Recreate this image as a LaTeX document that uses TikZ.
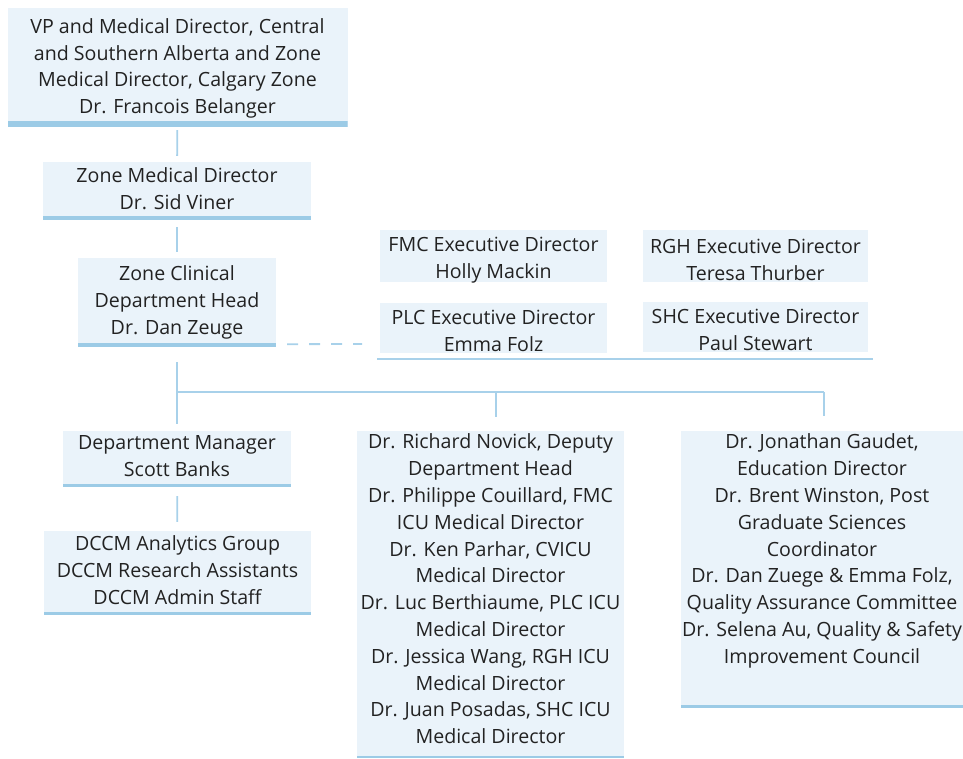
\documentclass[tikz,border=0pt]{standalone}
\usepackage{fontspec}
\setmainfont{Open Sans}
\definecolor{boxfill}{HTML}{EAF3FA}
\definecolor{barc}{HTML}{9CCBE6}
\definecolor{linec}{HTML}{A8D1EA}
\definecolor{txt}{HTML}{222222}
\begin{document}
\begin{tikzpicture}[x=1pt,y=-1pt,
  box/.style 2 args={fill=boxfill, inner sep=0pt, minimum width=#1, minimum height=#2},
  bar/.style={path picture={\fill[barc] (path picture bounding box.south west)
    rectangle ([yshift=#1]path picture bounding box.south east);}},
  label text/.style={inner sep=0pt, align=center, text=txt,
    font=\fontsize{19.6}{26.8}\selectfont},
  conn/.style={draw=linec, line width=1.8pt},
  dashconn/.style={draw=linec, line width=1.8pt, dash pattern=on 11pt off 11pt},
  groupline/.style={draw=linec, line width=2pt}]
\useasboundingbox (0,0) rectangle (963,758);

% executive chain
\node[box={340}{119}, bar=6pt] (vp) at (177.5,67.5) {};
\node[label text] (vpt) at ([yshift=-1pt]vp.center)
  {VP and Medical Director, Central\\and Southern Alberta and Zone\\Medical Director, Calgary Zone\\Dr. Francois Belanger};
\node[box={268}{58}, bar=4pt] (zmd) at (177,191) {};
\node[label text] (zmdt) at ([yshift=2pt]zmd.center) {Zone Medical Director\\Dr. Sid Viner};
\node[box={198}{89}, bar=4pt] (zcd) at (177,302.5) {};
\node[label text] (zcdt) at (zcd.center) {Zone Clinical\\Department Head\\Dr. Dan Zeuge};

% site executive directors
\node[box={227}{52}] (fmc) at (493.5,256) {};
\node[label text] (fmct) at ([yshift=-4pt]fmc.center) {FMC Executive Director\\Holly Mackin};
\node[box={225}{52}] (rgh) at (755.5,256) {};
\node[label text] (rght) at ([yshift=-4pt]rgh.center) {RGH Executive Director\\Teresa Thurber};
\node[box={227}{50}] (plc) at (493.5,327.5) {};
\node[label text] (plct) at ([yshift=-3pt]plc.center) {PLC Executive Director\\Emma Folz};
\node[box={225}{50}] (shc) at (755.5,327) {};
\node[label text] (shct) at ([yshift=-3pt]shc.center) {SHC Executive Director\\Paul Stewart};
\coordinate (gl) at (377,359);
\coordinate (gr) at (873,359);
\draw[groupline] (gl) -- (gr);

% department level
\node[box={228}{56}, bar=3pt] (dm) at (177,459) {};
\node[label text] (dmt) at ([yshift=3pt]dm.center) {Department Manager\\Scott Banks};
\node[box={267}{84}, bar=3pt] (dccm) at (177.5,573) {};
\node[label text] (dccmt) at ([yshift=3pt]dccm.center)
  {DCCM Analytics Group\\DCCM Research Assistants\\DCCM Admin Staff};
\node[box={267}{327}, bar=2.5pt] (dep) at (490.5,594.5) {};
\node[label text, anchor=north] (dept) at ([yshift=-3pt]dep.north)
  {Dr. Richard Novick, Deputy\\Department Head\\Dr. Philippe Couillard, FMC\\ICU Medical Director\\Dr. Ken Parhar, CVICU\\Medical Director\\Dr. Luc Berthiaume, PLC ICU\\Medical Director\\Dr. Jessica Wang, RGH ICU\\Medical Director\\Dr. Juan Posadas, SHC ICU\\Medical Director};
\node[box={282}{277}, bar=3pt] (edu) at (822,569.5) {};
\node[label text, anchor=north] (edut) at ([yshift=-3pt]edu.north)
  {Dr. Jonathan Gaudet,\\Education Director\\Dr. Brent Winston, Post\\Graduate Sciences\\Coordinator\\Dr. Dan Zuege \& Emma Folz,\\Quality Assurance Committee\\Dr. Selena Au, Quality \& Safety\\Improvement Council};

% connectors
\coordinate (j) at (177,392);
\coordinate (jm) at (496,392);
\coordinate (jr) at (824,392);
\draw[conn, shorten <=3pt, shorten >=6pt] (vp) -- (zmd);
\draw[conn, shorten <=7pt, shorten >=6pt] (zmd) -- (zcd);
\draw[conn, shorten <=15pt] (zcd) -- (j);
\draw[conn, shorten >=7pt] (j) -- (dm);
\draw[conn, shorten <=9pt, shorten >=9pt] (dm) -- (dccm);
\draw[conn] (j) -- (jr);
\draw[conn, shorten >=14pt] (jm) -- (jm |- dep.north);
\draw[conn, shorten >=15pt] (jr) -- (jr |- edu.north);
\coordinate (dend) at (362,344);
\draw[dashconn] ([xshift=11pt,yshift=3pt]zcd.south east) -- (dend);
\end{tikzpicture}
\end{document}
